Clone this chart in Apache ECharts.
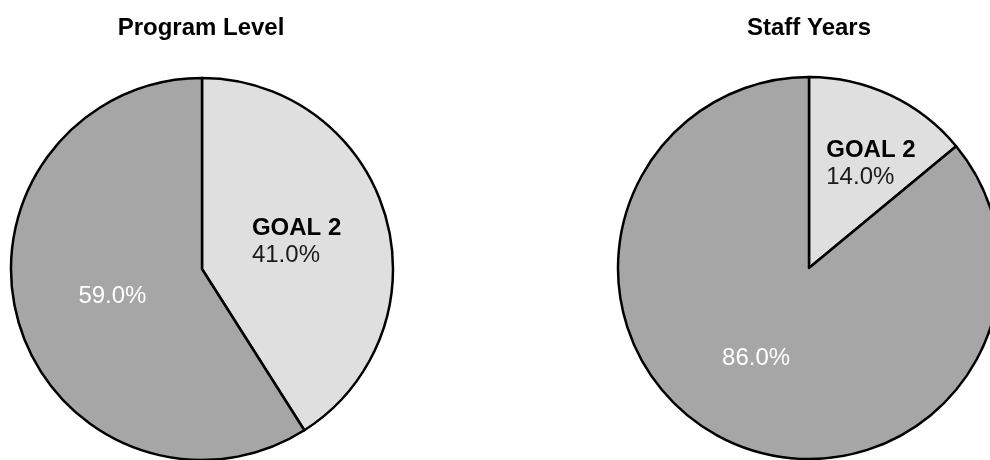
<!DOCTYPE html>
<html>
<head>
<meta charset="utf-8">
<script src="https://cdn.jsdelivr.net/npm/echarts@6/dist/echarts.min.js"></script>
<style>
    html, body, #main {
        width: 990px;
        height: 460px;
        margin: 0;
        background: #fff;
    }
</style>
</head>
<body>
<div id="main"></div>
<script>
    // data
    var chartTitles = ['Program Level', 'Staff Years'];
    var sliceNames = ['GOAL 2', 'Other'];
    var programLevel = [41.0, 59.0];
    var staffYears = [14.0, 86.0];

    var FONT = '"Liberation Sans", Arial, sans-serif';
    var sliceColors = ['#dfdfdf', '#a6a6a6'];

    function pieData(values, offsets) {
        return values.map(function (v, i) {
            return {
                name: sliceNames[i],
                value: v,
                itemStyle: { color: sliceColors[i] },
                label: { offset: offsets[i] }
            };
        });
    }

    var labelStyle = {
        show: true,
        position: 'inside',
        fontFamily: FONT,
        formatter: function (p) {
            var pct = p.percent.toFixed(1) + '%';
            return p.dataIndex === 0 ? '{b|' + p.name + '}\n{p|' + pct + '}' : '{w|' + pct + '}';
        },
        rich: {
            b: { fontFamily: FONT, fontSize: 24, fontWeight: 'bold', color: '#000', align: 'left', lineHeight: 27 },
            p: { fontFamily: FONT, fontSize: 24, color: '#1a1a1a', align: 'left', lineHeight: 27 },
            w: { fontFamily: FONT, fontSize: 24, color: '#fff' }
        }
    };

    function makeSeries(values, center, offsets) {
        return {
            type: 'pie',
            radius: 191,
            center: center,
            startAngle: 90,
            clockwise: true,
            silent: true,
            animation: false,
            itemStyle: { borderColor: '#000', borderWidth: 2.5 },
            label: labelStyle,
            labelLine: { show: false },
            emphasis: { disabled: true },
            data: pieData(values, offsets)
        };
    }

    var chart = echarts.init(document.getElementById('main'), null, { renderer: 'canvas' });
    chart.setOption({
        backgroundColor: '#fff',
        title: [
            {
                text: chartTitles[0], left: 196, top: 11, textAlign: 'center',
                textStyle: { fontFamily: FONT, fontSize: 24, fontWeight: 'bold', color: '#000' }
            },
            {
                text: chartTitles[1], left: 804, top: 11, textAlign: 'center',
                textStyle: { fontFamily: FONT, fontSize: 24, fontWeight: 'bold', color: '#000' }
            }
        ],
        series: [
            makeSeries(programLevel, [202, 269], [[0, 0], [5, 0]]),
            makeSeries(staffYears, [809, 268], [[20, -15], [-11, 1]])
        ]
    });
</script>
</body>
</html>
